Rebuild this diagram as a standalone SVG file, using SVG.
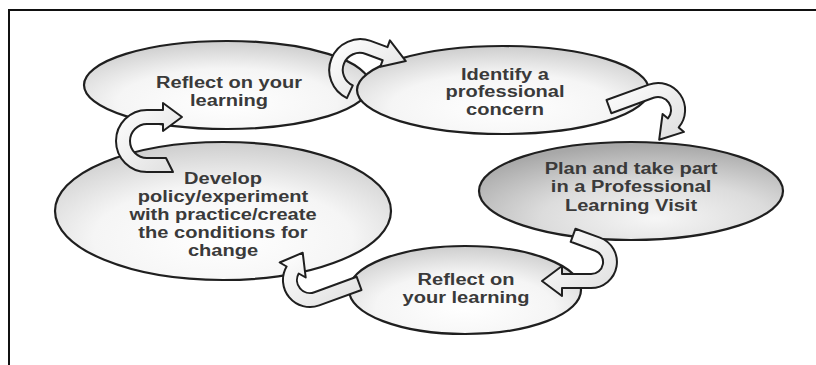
<svg xmlns="http://www.w3.org/2000/svg" width="816" height="365" viewBox="0 0 816 365">
  <defs>
    <style>
      .lbl { font-family: "Liberation Sans", Arial, sans-serif; font-weight: bold; font-size: 17px; fill: #3a3a3a; text-anchor: middle; }
      .node { stroke: #1f1f1f; stroke-width: 2.2; }
      .pale { fill: url(#paleFill); }
      .dark { fill: url(#darkFill); }
      .arrow { fill: url(#arrowFill); stroke: #1f1f1f; stroke-width: 2; stroke-linejoin: round; }
      .frame { fill: none; stroke: #111; stroke-width: 2; }
    </style>
    <radialGradient id="paleFill" cx="50%" cy="70%" r="70%">
      <stop offset="0" stop-color="#ffffff"/>
      <stop offset="0.55" stop-color="#f5f5f5"/>
      <stop offset="1" stop-color="#cdcdcd"/>
    </radialGradient>
    <radialGradient id="darkFill" cx="58%" cy="78%" r="75%">
      <stop offset="0" stop-color="#f6f6f6"/>
      <stop offset="0.5" stop-color="#dcdcdc"/>
      <stop offset="1" stop-color="#a8a8a8"/>
    </radialGradient>
    <linearGradient id="arrowFill" x1="0" y1="0" x2="1" y2="1">
      <stop offset="0" stop-color="#ffffff"/>
      <stop offset="1" stop-color="#dedede"/>
    </linearGradient>
  </defs>

  <!-- frame -->
  <path class="frame" d="M 816,10 H 9 V 365"/>

  <!-- cycle steps -->
  <g id="reflect-top">
    <ellipse class="node pale" cx="227" cy="85" rx="143" ry="44"/>
    <g transform="translate(229,0) scale(1.18,1)">
      <text class="lbl" x="0" y="88">Reflect on your</text>
      <text class="lbl" x="0" y="106">learning</text>
    </g>
  </g>

  <g id="identify">
    <ellipse class="node pale" cx="503" cy="90" rx="146" ry="44"/>
    <g transform="translate(505,0) scale(1.18,1)">
      <text class="lbl" x="0" y="80">Identify a</text>
      <text class="lbl" x="0" y="97.5">professional</text>
      <text class="lbl" x="0" y="115">concern</text>
    </g>
  </g>

  <g id="plan-visit">
    <ellipse class="node dark" cx="631" cy="191" rx="152" ry="49"/>
    <g transform="translate(631,0) scale(1.18,1)">
      <text class="lbl" x="0" y="174">Plan and take part</text>
      <text class="lbl" x="0" y="192.5">in a Professional</text>
      <text class="lbl" x="0" y="211">Learning Visit</text>
    </g>
  </g>

  <g id="reflect-bottom">
    <ellipse class="node pale" cx="465" cy="290" rx="116" ry="44"/>
    <g transform="translate(466,0) scale(1.18,1)">
      <text class="lbl" x="0" y="285">Reflect on</text>
      <text class="lbl" x="0" y="303.5">your learning</text>
    </g>
  </g>

  <g id="develop">
    <ellipse class="node pale" cx="223" cy="211" rx="168" ry="69"/>
    <g transform="translate(223,0) scale(1.18,1)">
      <text class="lbl" x="0" y="184">Develop</text>
      <text class="lbl" x="0" y="202">policy/experiment</text>
      <text class="lbl" x="0" y="220">with practice/create</text>
      <text class="lbl" x="0" y="238">the conditions for</text>
      <text class="lbl" x="0" y="256">change</text>
    </g>
  </g>

  <!-- curled ribbon arrows between steps -->
  <g id="connectors">
    <path class="arrow" d="M 346.9,98.1 A 31 31 0 0 1 370.6,40.9 L 387.5,47.1 L 389.9,40.4 L 405.8,61.1 L 380.3,66.8 L 382.7,60.2 L 365.8,54.0 A 17 17 0 0 0 352.8,85.4 Z"/>
    <path class="arrow" d="M 606.5,100.0 L 648.8,84.6 A 27 27 0 0 1 678.7,127.4 L 684.0,131.9 L 659.2,139.7 L 662.6,113.9 L 668.0,118.4 A 13 13 0 0 0 653.6,97.8 L 611.3,113.2 Z"/>
    <path class="arrow" d="M 575.5,228.7 L 599.9,237.6 A 26 26 0 0 1 591,288 L 562,288 L 562,296 L 542,281 L 562,266 L 562,274 L 591,274 A 12 12 0 0 0 595.1,250.7 L 570.7,241.8 Z"/>
    <path class="arrow" d="M 361.5,290.0 L 319.2,305.4 A 27 27 0 0 1 286.6,266.5 L 279.7,262.5 L 302.7,252.7 L 305.7,277.5 L 298.7,273.5 A 13 13 0 0 0 314.4,292.2 L 356.7,276.8 Z"/>
    <path class="arrow" d="M 173,172 L 147,172 A 31 31 0 0 1 116,141 A 31 31 0 0 1 147,110 L 163,110 L 163,103 L 182,117 L 163,131 L 163,124 L 147,124 A 17 17 0 0 0 130,141 A 17 17 0 0 0 147,158 L 166,158 Z"/>
  </g>
</svg>
